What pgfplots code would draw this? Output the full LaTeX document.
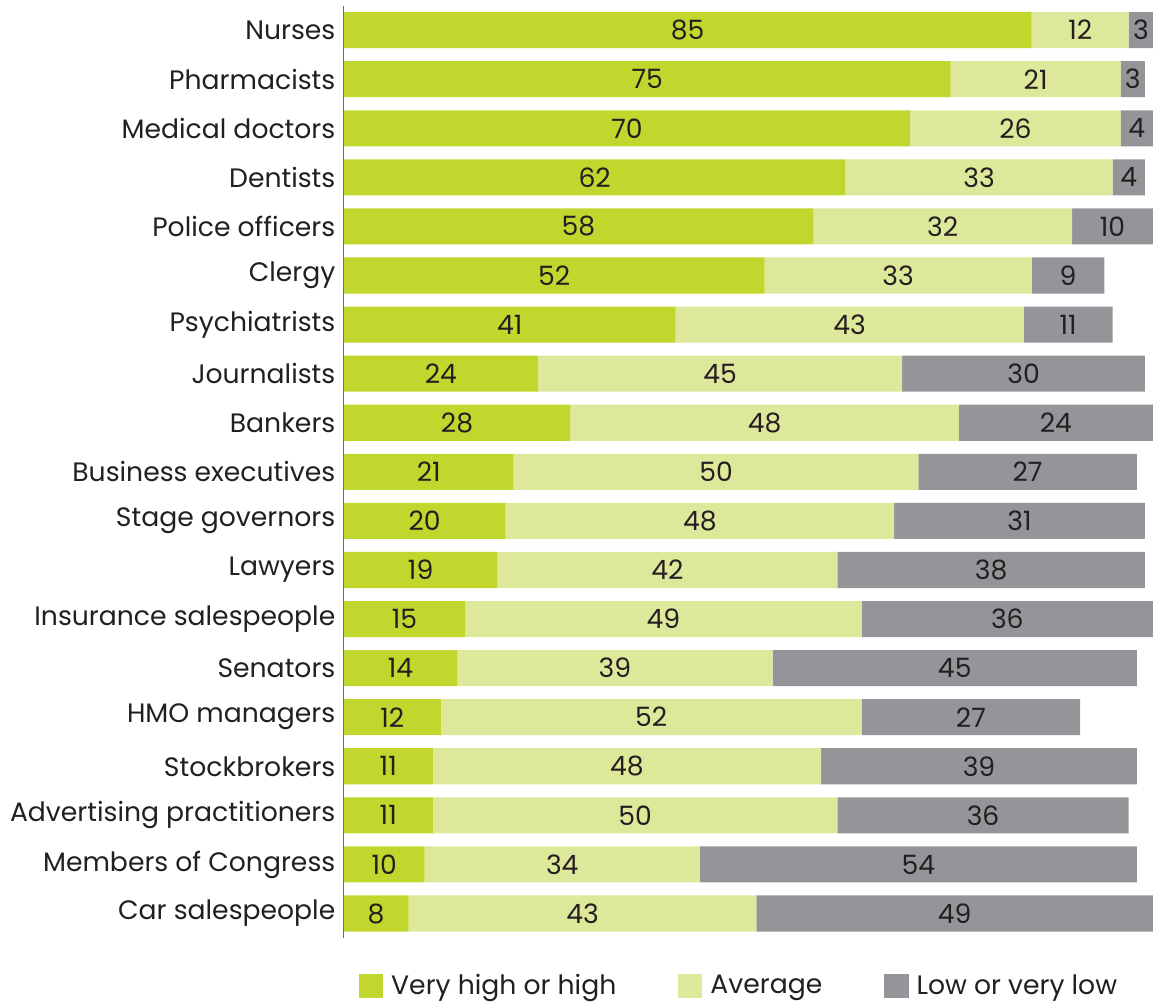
\documentclass[border=0pt]{standalone}
\usepackage{pgfplots}
\pgfplotsset{compat=1.18}
\usepackage{fontspec}
\setmainfont{Poppins}
\definecolor{cHigh}{HTML}{C2D72E}
\definecolor{cAvg}{HTML}{DDE89A}
\definecolor{cLow}{HTML}{939598}
\definecolor{txt}{HTML}{231F20}
\pgfplotstableread{
idx high avg low
0 85 12 3
1 75 21 3
2 70 26 4
3 62 33 4
4 58 32 10
5 52 33 9
6 41 43 11
7 24 45 30
8 28 48 24
9 21 50 27
10 20 48 31
11 19 42 38
12 15 49 36
13 14 39 45
14 12 52 27
15 11 48 39
16 11 50 36
17 10 34 54
18 8 43 49
}\datatable
\begin{document}
\begin{tikzpicture}
\begin{axis}[
  scale only axis,
  width=404pt, height=465.5pt,
  xbar stacked,
  bar width=18pt,
  xmin=0, xmax=100,
  ymin=-0.5, ymax=18.5,
  y dir=reverse,
  axis x line=none,
  axis y line*=left,
  axis line style={draw=black!60, line width=0.6pt, -},
  ytick={0,...,18},
  yticklabels={Nurses,Pharmacists,Medical doctors,Dentists,Police officers,Clergy,Psychiatrists,Journalists,Bankers,Business executives,Stage governors,Lawyers,Insurance salespeople,Senators,HMO managers,Stockbrokers,Advertising practitioners,Members of Congress,Car salespeople},
  major tick length=0pt,
  yticklabel style={font=\fontsize{13.3}{16}\selectfont, text=txt, inner sep=0pt, xshift=-4pt},
  /pgf/number format/assume math mode=true,
  visualization depends on=rawx\as\rawx,
  nodes near coords={\pgfmathprintnumber{\rawx}},
  every node near coord/.append style={font=\fontsize{13.3}{16}\selectfont, text=txt, anchor=center, inner sep=0pt},
  legend columns=3,
  legend style={draw=none, at={(0,0)}, anchor=west, xshift=7.5pt, yshift=-24pt, inner sep=0pt,
    font=\fontsize{13.3}{16}\selectfont, text=txt,
    /tikz/every odd column/.append style={column sep=2pt},
    /tikz/every even column/.append style={column sep=29pt}},
]
\addplot[fill=cHigh, draw=none, legend image code/.code={\fill[cHigh] (0pt,-6pt) rectangle (12pt,6pt);}] table[x=high, y=idx] {\datatable};
\addlegendentry{Very high or high}
\addplot[fill=cAvg, draw=none, legend image code/.code={\fill[cAvg] (0pt,-6pt) rectangle (12pt,6pt);}] table[x=avg, y=idx] {\datatable};
\addlegendentry{Average}
\addplot[fill=cLow, draw=none, legend image code/.code={\fill[cLow] (0pt,-6pt) rectangle (12pt,6pt);}] table[x=low, y=idx] {\datatable};
\addlegendentry{Low or very low}
\end{axis}
\path ([yshift=2.5pt]current bounding box.north);
\path ([xshift=-5pt]current bounding box.west);
\end{tikzpicture}
\end{document}
